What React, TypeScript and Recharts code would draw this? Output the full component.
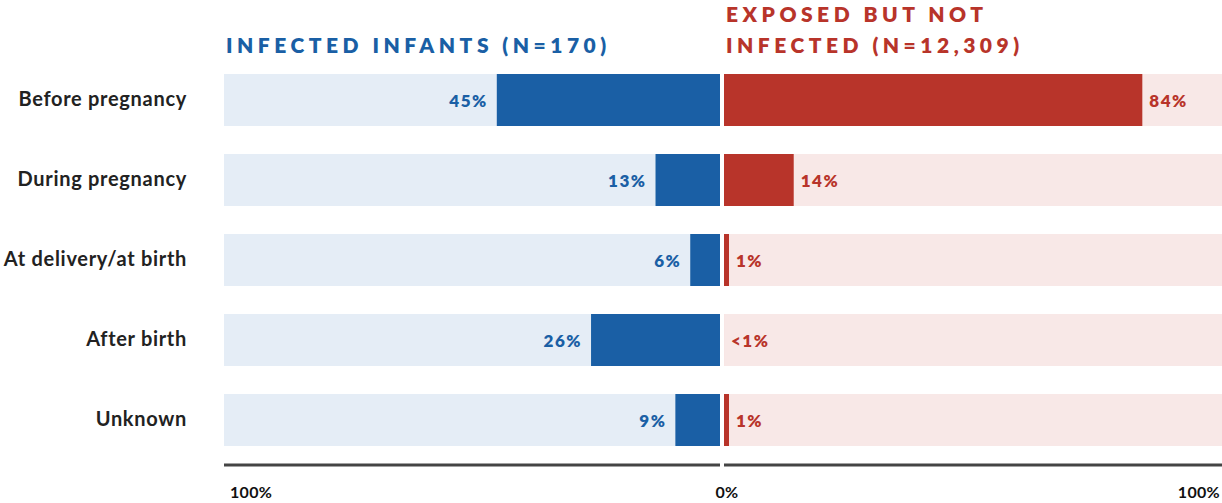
import { BarChart, Bar, XAxis, YAxis, LabelList } from "recharts";

const categories = ["Before pregnancy", "During pregnancy", "At delivery/at birth", "After birth", "Unknown"];
const infected = [45, 13, 6, 26, 9];
const exposed = [84, 14, 1, 0, 1];
const infectedLabels = ["45%", "13%", "6%", "26%", "9%"];
const exposedLabels = ["84%", "14%", "1%", "<1%", "1%"];
const trackMax = 100;

const BLUE = "#1a5fa5";
const BLUE_BG = "#e5edf6";
const RED = "#b8342a";
const RED_BG = "#f8e8e7";
const FONT = "Lato, 'Noto Sans', sans-serif";

const leftData = categories.map((name, i) => ({ name, value: infected[i], track: trackMax, label: infectedLabels[i] }));
const rightData = categories.map((name, i) => ({ name, value: exposed[i], track: trackMax, label: exposedLabels[i] }));

const CategoryTick = (props: any) => {
	const { x, y, payload } = props;
	return (
		<text x={x} y={y} dy={6} textAnchor="end" fontFamily={FONT} fontSize={20} fontWeight={700} letterSpacing={0.7} fill="#222">
			{payload.value}
		</text>
	);
};

const PctTick = (props: any) => {
	const { x, y, payload, side } = props;
	let anchor = "middle";
	let dx = 7;
	if (side === "left" && payload.value === 100) {
		anchor = "start";
		dx = 6;
	}
	if (side === "right") {
		anchor = "end";
		dx = -2;
	}
	return (
		<text x={x + dx} y={y + 27} dominantBaseline="middle" textAnchor={anchor} fontFamily={FONT} fontSize={16} fontWeight={700} letterSpacing={0.3} fill="#111">
			{payload.value}%
		</text>
	);
};

const makeLabel = (side: "left" | "right") => (props: any) => {
	const { x, y, width, height, value } = props;
	const lo = Math.min(x, x + width);
	const hi = Math.max(x, x + width);
	const isLeft = side === "left";
	return (
		<text
			x={isLeft ? lo - 9 : hi + 7}
			y={y + height / 2}
			dominantBaseline="central"
			textAnchor={isLeft ? "end" : "start"}
			fontFamily={FONT}
			fontSize={17}
			fontWeight={800}
			letterSpacing={1.5}
			fill={isLeft ? BLUE : RED}
		>
			{value}
		</text>
	);
};

const titleStyle: React.CSSProperties = {
	position: "absolute",
	fontFamily: FONT,
	fontWeight: 800,
	fontSize: 21,
	letterSpacing: 4.5,
	lineHeight: "31px",
	whiteSpace: "nowrap",
};

export default function App() {
	return (
		<div style={{ position: "absolute", left: 0, top: 0, width: 1222, height: 503, background: "#fff", overflow: "hidden" }}>
			<style>{"svg.recharts-surface{overflow:visible}"}</style>
			<div style={{ ...titleStyle, left: 226, top: 29, color: BLUE }}>INFECTED INFANTS (N=170)</div>
			<div style={{ ...titleStyle, left: 726, top: -2, color: RED }}>
				EXPOSED BUT NOT
				<br />
				INFECTED (N=12,309)
			</div>

			<div style={{ position: "absolute", left: 0, top: 0 }}>
				<BarChart width={721} height={503} data={leftData} layout="vertical" margin={{ top: 60, right: 1, bottom: 0, left: 0 }}>
					<XAxis
						type="number"
						domain={[0, 100]}
						reversed
						ticks={[100, 0]}
						height={38}
						axisLine={{ stroke: "#444", strokeWidth: 3 }}
						tickLine={false}
						tickSize={0}
						tick={<PctTick side="left" />}
						interval={0}
					/>
					<YAxis
						type="category"
						dataKey="name"
						width={224}
						axisLine={false}
						tickLine={false}
						tickSize={0}
						tickMargin={37}
						padding={{ top: 0, bottom: 5 }}
						tick={<CategoryTick />}
						interval={0}
					/>
					<YAxis yAxisId="track" type="category" dataKey="name" hide padding={{ top: 0, bottom: 5 }} />
					<Bar yAxisId="track" dataKey="track" fill={BLUE_BG} barSize={52} isAnimationActive={false} />
					<Bar dataKey="value" fill={BLUE} barSize={52} isAnimationActive={false}>
						<LabelList dataKey="label" content={makeLabel("left")} />
					</Bar>
				</BarChart>
			</div>

			<div style={{ position: "absolute", left: 724, top: 0 }}>
				<BarChart width={498} height={503} data={rightData} layout="vertical" margin={{ top: 60, right: 0, bottom: 0, left: 0 }}>
					<XAxis
						type="number"
						domain={[0, 100]}
						ticks={[100]}
						height={38}
						axisLine={{ stroke: "#444", strokeWidth: 3 }}
						tickLine={false}
						tickSize={0}
						tick={<PctTick side="right" />}
						interval={0}
					/>
					<YAxis type="category" dataKey="name" hide padding={{ top: 0, bottom: 5 }} />
					<YAxis yAxisId="track" type="category" dataKey="name" hide padding={{ top: 0, bottom: 5 }} />
					<Bar yAxisId="track" dataKey="track" fill={RED_BG} barSize={52} isAnimationActive={false} />
					<Bar dataKey="value" fill={RED} barSize={52} minPointSize={0.01} isAnimationActive={false}>
						<LabelList dataKey="label" content={makeLabel("right")} />
					</Bar>
				</BarChart>
			</div>
		</div>
	);
}
